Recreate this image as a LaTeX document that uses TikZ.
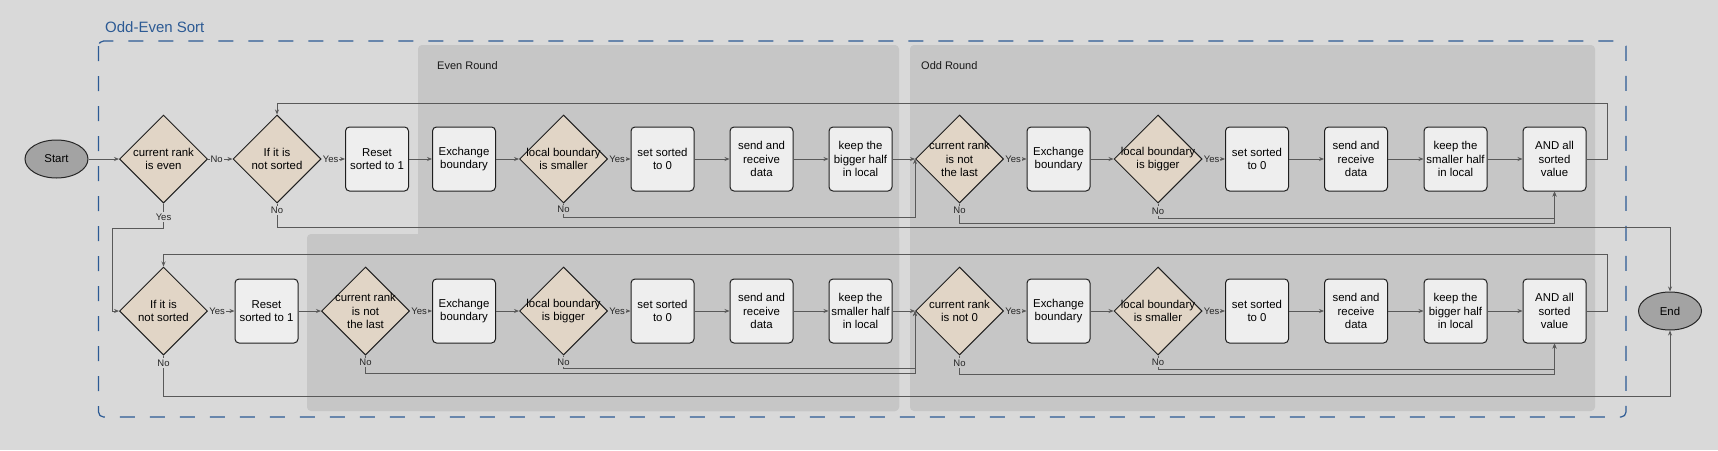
\documentclass[tikz,border=0pt]{standalone}
\usepackage{fontspec}
\setmainfont{Liberation Sans}
\usetikzlibrary{shapes.geometric,arrows.meta}
\definecolor{bgc}{HTML}{D9D9D9}
\definecolor{panelc}{HTML}{C6C6C6}
\definecolor{decc}{HTML}{E1D5C6}
\definecolor{procc}{HTML}{EEEEEE}
\definecolor{termc}{HTML}{A3A3A3}
\definecolor{edgec}{HTML}{595959}
\definecolor{framec}{HTML}{2C5A94}
\begin{document}
\begin{tikzpicture}[x=1pt,y=-1pt,
  txt/.style={font=\fontsize{11.4}{13.5}\selectfont, align=center},
  proc/.style={draw=black!88, line width=1pt, fill=procc, rounded corners=4pt, minimum width=63pt, minimum height=64pt, inner sep=1pt, txt},
  dec/.style={diamond, draw=black!88, line width=1pt, fill=decc, minimum width=88pt, minimum height=88pt, inner sep=0pt},
  dtext/.style={txt, inner sep=0pt},
  term/.style={ellipse, draw=black!85, line width=1pt, fill=termc, minimum width=63pt, minimum height=38pt, inner sep=0pt, txt},
  arr/.style={draw=edgec, line width=0.9pt, -{Stealth[length=5pt,width=4pt]}},
  ln/.style={draw=edgec, line width=0.9pt},
  lbl/.style={font=\fontsize{9.5}{10}\selectfont, inner sep=1pt, text height=7pt, text depth=0.5pt, text=black!85},
  lblo/.style={lbl, fill=bgc},
  lbli/.style={lbl, fill=panelc},
  ptitle/.style={font=\fontsize{11}{13}\selectfont, anchor=west, inner sep=0pt, text=black!90},
]
% background and bounding box
\fill[bgc] (0,0) rectangle (1718,450);
\useasboundingbox (0,0) rectangle (1718,450);

% panels
\fill[panelc, rounded corners=4pt] (418,45) rectangle (899,411);
\fill[panelc, rounded corners=4pt] (307,234) rectangle (899,411);
\fill[panelc, rounded corners=4pt] (910,45) rectangle (1595,411);
\node[ptitle] (evenT) at (437,66) {Even Round};
\node[ptitle] (oddT) at (921,66) {Odd Round};

% frame
\draw[framec, line width=1.2pt, dash pattern=on 15pt off 15pt, rounded corners=5pt] (98.5,41) rectangle (1626,417);
\node[anchor=west, inner sep=0pt, text=framec, font=\fontsize{15}{17}\selectfont] (title) at (105,27) {Odd-Even Sort};

% top row
\node[term] (start) at (56.5,159) {Start};
\node[dec, label={[dtext]center:{current rank\\is even}}] (d1) at (163.5,159) {};
\node[dec, label={[dtext]center:{If it is\\not sorted}}] (d2) at (277,159) {};
\node[proc] (r1) at (377,159) {Reset\\sorted to 1};
\node[proc] (r2) at (464,159) {Exchange\\boundary};
\node[dec, label={[dtext]center:{local boundary\\is smaller}}] (d3) at (563.5,159) {};
\node[proc] (r3) at (662.5,159) {set sorted\\to 0};
\node[proc] (r4) at (761.5,159) {send and\\receive\\data};
\node[proc] (r5) at (860.5,159) {keep the\\bigger half\\in local};
\node[dec, label={[dtext]center:{current rank\\is not\\the last}}] (d4) at (959.5,159) {};
\node[proc] (r6) at (1058.5,159) {Exchange\\boundary};
\node[dec, label={[dtext]center:{local boundary\\is bigger}}] (d5) at (1158,159) {};
\node[proc] (r7) at (1257,159) {set sorted\\to 0};
\node[proc] (r8) at (1356,159) {send and\\receive\\data};
\node[proc] (r9) at (1455.5,159) {keep the\\smaller half\\in local};
\node[proc] (r10) at (1554.5,159) {AND all\\sorted\\value};

% bottom row
\node[dec, label={[dtext]center:{If it is\\not sorted}}] (d6) at (163.5,311) {};
\node[proc] (r11) at (266.5,311) {Reset\\sorted to 1};
\node[dec, label={[dtext]center:{current rank\\is not\\the last}}] (d7) at (365.5,311) {};
\node[proc] (r12) at (464,311) {Exchange\\boundary};
\node[dec, label={[dtext]center:{local boundary\\is bigger}}] (d8) at (563.5,311) {};
\node[proc] (r13) at (662.5,311) {set sorted\\to 0};
\node[proc] (r14) at (761.5,311) {send and\\receive\\data};
\node[proc] (r15) at (860.5,311) {keep the\\smaller half\\in local};
\node[dec, label={[dtext]center:{current rank\\is not 0}}] (d9) at (959.5,311) {};
\node[proc] (r16) at (1058.5,311) {Exchange\\boundary};
\node[dec, label={[dtext]center:{local boundary\\is smaller}}] (d10) at (1158,311) {};
\node[proc] (r17) at (1257,311) {set sorted\\to 0};
\node[proc] (r18) at (1356,311) {send and\\receive\\data};
\node[proc] (r19) at (1455.5,311) {keep the\\bigger half\\in local};
\node[proc] (r20) at (1554.5,311) {AND all\\sorted\\value};
\node[term] (end) at (1670,311) {End};

% top row connectors
\draw[arr] (start.east) -- (d1.west);
\draw[arr] (d1.east) -- node[lblo, pos=0.35] {No} (d2.west);
\draw[arr] (d2.east) -- node[lblo, anchor=west, pos=0] {Yes} (r1.west);
\draw[arr] (r1.east) -- (r2.west);
\draw[arr] (r2.east) -- (d3.west);
\draw[arr] (d3.east) -- node[lbli, anchor=west, pos=0] {Yes} (r3.west);
\draw[arr] (r3.east) -- (r4.west);
\draw[arr] (r4.east) -- (r5.west);
\draw[arr] (r5.east) -- (d4.west);
\draw[arr] (d4.east) -- node[lbli, anchor=west, pos=0] {Yes} (r6.west);
\draw[arr] (r6.east) -- (d5.west);
\draw[arr] (d5.east) -- node[lbli, anchor=west, pos=0] {Yes} (r7.west);
\draw[arr] (r7.east) -- (r8.west);
\draw[arr] (r8.east) -- (r9.west);
\draw[arr] (r9.east) -- (r10.west);
\draw[arr] (r10.east) -- (1607,159) -- (1607,103) -| (d2.north);
\draw[arr] (d1.south) -- node[lblo, pos=0.55] {Yes} (163.5,228) -- (112,228) |- (d6.west);
\draw[arr] (d2.south) -- node[lblo, pos=0.29] {No} (277,227) -| (end.north);
\draw[arr] (d3.south) -- node[lbli, pos=0.45] {No} (563.5,217) -| (d4.west);
\draw[arr] (d5.south) -- node[lbli, pos=0.5] {No} (1158,218) -| (r10.south);
\draw[arr] (d4.south) -- node[lbli, pos=0.35] {No} (959.5,223) -| (r10.south);

% bottom row connectors
\draw[arr] (d6.east) -- node[lblo, anchor=west, pos=0] {Yes} (r11.west);
\draw[arr] (r11.east) -- (d7.west);
\draw[arr] (d7.east) -- node[lbli, anchor=west, pos=0] {Yes} (r12.west);
\draw[arr] (r12.east) -- (d8.west);
\draw[arr] (d8.east) -- node[lbli, anchor=west, pos=0] {Yes} (r13.west);
\draw[arr] (r13.east) -- (r14.west);
\draw[arr] (r14.east) -- (r15.west);
\draw[arr] (r15.east) -- (d9.west);
\draw[arr] (d9.east) -- node[lbli, anchor=west, pos=0] {Yes} (r16.west);
\draw[arr] (r16.east) -- (d10.west);
\draw[arr] (d10.east) -- node[lbli, anchor=west, pos=0] {Yes} (r17.west);
\draw[arr] (r17.east) -- (r18.west);
\draw[arr] (r18.east) -- (r19.west);
\draw[arr] (r19.east) -- (r20.west);
\draw[arr] (r20.east) -- (1607,311) -- (1607,254) -| (d6.north);
\draw[arr] (d6.south) -- node[lblo, pos=0.18] {No} (163.5,396) -| (end.south);
\draw[arr] (d7.south) -- node[lbli, pos=0.4] {No} (365.5,373) -| (d9.west);
\draw[arr] (d8.south) -- node[lbli, pos=0.5] {No} (563.5,368) -| (d9.west);
\draw[arr] (d10.south) -- node[lbli, pos=0.5] {No} (1158,369) -| (r20.south);
\draw[arr] (d9.south) -- node[lbli, pos=0.4] {No} (959.5,374) -| (r20.south);
\end{tikzpicture}
\end{document}
